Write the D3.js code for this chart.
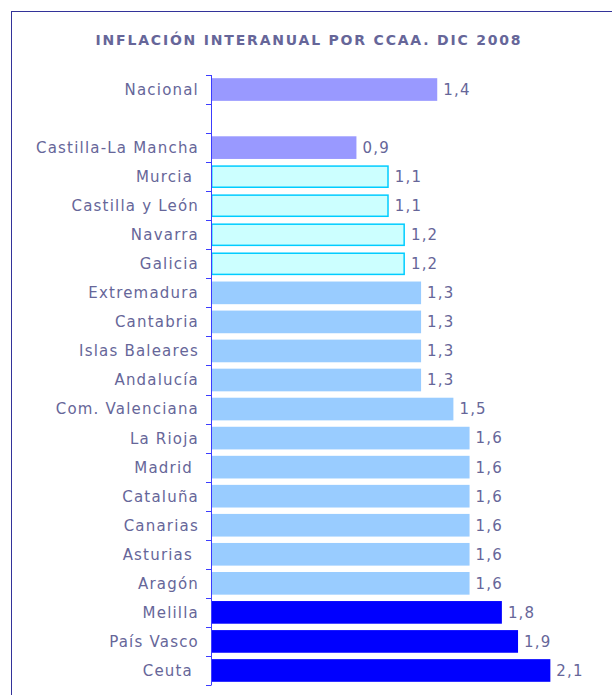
<!DOCTYPE html>
<html>
<head>
<meta charset="utf-8">
<script src="https://cdn.jsdelivr.net/npm/d3@7"></script>
<style>
  body { margin: 0; background: #fff; }
  svg { display: block; }
  text { font-family: "DejaVu Sans", Verdana, sans-serif; fill: #666699; }
</style>
</head>
<body>
<svg id="chart" width="612" height="695"></svg>
<script>
// data (" " is the empty slot after Nacional)
var regions = ["Nacional", " ", "Castilla-La Mancha", "Murcia ", "Castilla y León", "Navarra", "Galicia",
               "Extremadura", "Cantabria", "Islas Baleares", "Andalucía", "Com. Valenciana", "La Rioja",
               "Madrid ", "Cataluña", "Canarias", "Asturias ", "Aragón", "Melilla", "País Vasco", "Ceuta "];
var values = [1.4, null, 0.9, 1.1, 1.1, 1.2, 1.2, 1.3, 1.3, 1.3, 1.3, 1.5, 1.6, 1.6, 1.6, 1.6, 1.6, 1.6, 1.8, 1.9, 2.1];
var groups = ["nac", null, "nac", "low", "low", "low", "low", "mid", "mid", "mid", "mid", "mid", "mid",
              "mid", "mid", "mid", "mid", "mid", "high", "high", "high"];

var fills   = {nac: "#9999ff", low: "#ccffff", mid: "#99ccff", high: "#0000ff"};
var strokes = {low: "#00ccff"};

var data = regions.map(function(r, i) { return {name: r, value: values[i], group: groups[i]}; });

var svg = d3.select("#chart");

// outer frame (runs past the right and bottom edge)
svg.append("rect")
    .attr("x", 11.5).attr("y", 11.5)
    .attr("width", 800).attr("height", 900)
    .attr("fill", "none")
    .attr("stroke", "#333399");

svg.append("text")
    .attr("x", 309).attr("y", 44.5)
    .attr("text-anchor", "middle")
    .style("font-size", "14px")
    .style("font-weight", "bold")
    .style("letter-spacing", "1.8px")
    .text("INFLACIÓN INTERANUAL POR CCAA. DIC 2008");

var x0 = 211;
var x = d3.scaleLinear().domain([0, 2.5]).range([x0, x0 + 404]);
var y = d3.scaleBand().domain(regions).range([75, 685]).paddingInner(0.22).paddingOuter(0.11);

// bars
svg.selectAll(".bar")
    .data(data.filter(function(d) { return d.value != null; }))
  .enter().append("rect")
    .attr("class", "bar")
    .attr("x", function(d) { return strokes[d.group] ? x(0) + 0.75 : x(0); })
    .attr("y", function(d) { return strokes[d.group] ? y(d.name) + 0.75 : y(d.name); })
    .attr("width", function(d) { return x(d.value) - x(0) - (strokes[d.group] ? 1.5 : 0); })
    .attr("height", function(d) { return y.bandwidth() - (strokes[d.group] ? 1.5 : 0); })
    .attr("fill", function(d) { return fills[d.group]; })
    .attr("stroke", function(d) { return strokes[d.group] || "none"; })
    .attr("stroke-width", 1.5);

// value labels
svg.selectAll(".val")
    .data(data.filter(function(d) { return d.value != null; }))
  .enter().append("text")
    .attr("class", "val")
    .attr("x", function(d) { return x(d.value) + 6; })
    .attr("y", function(d) { return y(d.name) + y.bandwidth() / 2; })
    .attr("dy", "0.36em")
    .style("font-size", "15px")
    .style("letter-spacing", "1.2px")
    .text(function(d) { return d3.format(".1f")(d.value).replace(".", ","); });

// category axis: labels at band centres, ticks on band boundaries
var axis = svg.append("g")
    .attr("transform", "translate(" + x0 + ",0)")
    .call(d3.axisLeft(y).tickSize(0).tickPadding(12));
axis.select(".domain").remove();
axis.selectAll("text")
    .style("font-size", "15px")
    .style("letter-spacing", "1.2px")
    .style("white-space", "pre")
    .attr("fill", "#666699")
    .attr("dy", "0.36em");

var step = y.step();
var bounds = d3.range(regions.length + 1).map(function(i) { return 75 + i * step; });
svg.append("line")
    .attr("x1", x0 + 0.5).attr("x2", x0 + 0.5)
    .attr("y1", 75).attr("y2", 685)
    .attr("stroke", "#3c3cff");
svg.selectAll(".tick-b")
    .data(bounds)
  .enter().append("line")
    .attr("class", "tick-b")
    .attr("x1", x0 - 5).attr("x2", x0 + 0.5)
    .attr("y1", function(d) { return Math.round(d) + 0.5; })
    .attr("y2", function(d) { return Math.round(d) + 0.5; })
    .attr("stroke", "#3c3cff");
</script>
</body>
</html>
